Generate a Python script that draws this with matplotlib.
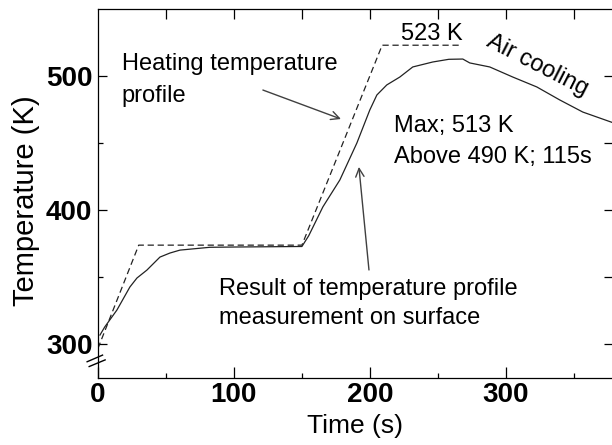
import numpy as np
import matplotlib
matplotlib.use('Agg')
import matplotlib.pyplot as plt

# Heating temperature profile (set point, dashed)
time_set = [0, 30, 150, 209, 267]
temp_set = [297, 374, 374, 523, 523]

# Measured temperature on surface (solid)
time_meas = [1.5, 5, 14, 23.5, 28.7, 36, 45.6, 52.9, 60.3, 82.3, 100, 150,
             155, 165.4, 177.9, 190.4, 199.9, 205.1, 212.4, 222, 231.5, 246.2,
             258, 268.3, 273.4, 288.1, 305, 322.7, 339.6, 356.5, 378]
temp_meas = [307, 313, 325.7, 342.8, 349.5, 355.4, 365.1, 368.1, 370.3, 372.4, 372.6, 373,
             381, 402.5, 422.6, 450.1, 474.7, 485.9, 493.4, 499.3, 506.8, 510.5,
             512.5, 512.7, 509.8, 506.8, 499.3, 491.9, 482.2, 473.2, 465.5]

x_major = [0, 100, 200, 300]
x_minor = [50, 150, 250, 350]
y_major = [300, 400, 500]
y_minor = [350, 450]

plt.rcParams['font.family'] = ['Liberation Sans', 'DejaVu Sans']

fig = plt.figure(figsize=(6.12, 4.45), dpi=100)
ax = fig.add_axes([0.160, 0.1506, 0.840, 0.8292])

ax.plot(time_set, temp_set, color='#222222', lw=0.9, linestyle=(0, (5, 3)))
ax.plot(time_meas, temp_meas, color='#222222', lw=0.9)

ax.set_xlim(0, 378)
ax.set_ylim(275, 550)

ax.set_xticks(x_major)
ax.set_xticks(x_minor, minor=True)
ax.set_yticks(y_major)
ax.set_yticks(y_minor, minor=True)
ax.tick_params(which='major', direction='in', length=8, width=0.9, labelsize=20, pad=3)
ax.tick_params(which='minor', direction='in', length=3.5, width=0.9)
ax.tick_params(axis='y', which='major', length=6.5, pad=4)
for lab in ax.get_xticklabels() + ax.get_yticklabels():
    lab.set_fontweight('bold')

ax.spines['right'].set_visible(False)
for s in ['left', 'top', 'bottom']:
    ax.spines[s].set_linewidth(0.9)

# top / right ticks, all same length, no labels
top = ax.secondary_xaxis('top')
top.set_xticks(x_major[1:] + x_minor)
top.tick_params(direction='in', length=7, width=0.9, labeltop=False)
top.spines['top'].set_visible(False)
right = ax.secondary_yaxis('right')
right.set_yticks(y_major + y_minor)
right.tick_params(direction='in', length=6, width=0.9, labelright=False)
right.spines['right'].set_visible(False)

ax.set_xlabel('Time (s)', fontsize=19)
ax.xaxis.set_label_coords(0.50, -0.098)
ax.set_ylabel('Temperature (K)', fontsize=21)
ax.yaxis.set_label_coords(-0.112, 0.48)

# axis break mark
ax.plot([-0.021, 0.009], [0.044, 0.062], color='black', lw=1, transform=ax.transAxes, clip_on=False)
ax.plot([-0.017, 0.014], [0.031, 0.049], color='black', lw=1, transform=ax.transAxes, clip_on=False)

# annotations
fs = 17
ax.text(17.6, 504.5, 'Heating temperature', fontsize=fs)
ax.text(17.6, 480.7, 'profile', fontsize=fs)
ax.annotate('', xy=(178.7, 468), xytext=(121.3, 489.6),
            arrowprops=dict(arrowstyle='->', color='#404040', lw=1, mutation_scale=15,
                            shrinkA=0, shrinkB=0))
ax.text(222.8, 526.9, '523 K', fontsize=fs)
ax.text(323, 508, 'Air cooling', fontsize=fs, rotation=-27,
        ha='center', va='center', rotation_mode='anchor')
ax.text(217.6, 458.3, 'Max; 513 K', fontsize=fs)
ax.text(217.6, 435.2, 'Above 490 K; 115s', fontsize=fs)
ax.text(89, 336.9, 'Result of temperature profile', fontsize=fs)
ax.text(89, 315.3, 'measurement on surface', fontsize=fs)
ax.annotate('', xy=(191.9, 432.3), xytext=(199.3, 355.5),
            arrowprops=dict(arrowstyle='->', color='#404040', lw=1, mutation_scale=15,
                            shrinkA=0, shrinkB=0))

plt.savefig('out.png', dpi=100)
